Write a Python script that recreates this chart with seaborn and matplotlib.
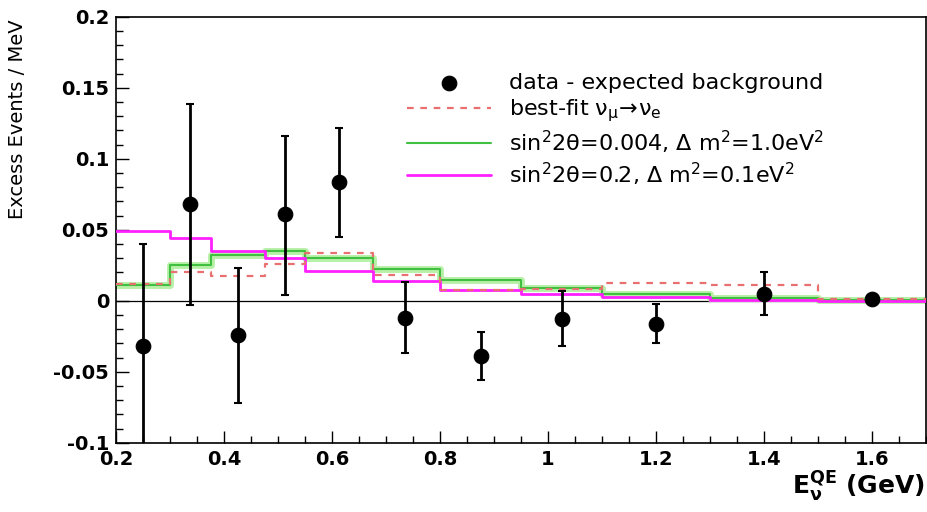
import numpy as np
import pandas as pd
import matplotlib
matplotlib.use("Agg")
import matplotlib.pyplot as plt
import seaborn as sns
from matplotlib.ticker import MultipleLocator

# bin edges (GeV) of the prediction histograms
edges = [0.2, 0.3, 0.375, 0.475, 0.55, 0.675, 0.8, 0.95, 1.1, 1.3, 1.5, 1.7]
best_fit = [0.012, 0.020, 0.0175, 0.026, 0.034, 0.018, 0.0075, 0.0085, 0.0125, 0.011, 0.001]
osc_a = [0.011, 0.025, 0.032, 0.035, 0.030, 0.0225, 0.0145, 0.009, 0.0045, 0.002, 0.0003]
osc_b = [0.049, 0.044, 0.035, 0.030, 0.021, 0.014, 0.008, 0.005, 0.0026, 0.0007, 0.0001]

# data - expected background
data_x = [0.25, 0.3375, 0.425, 0.5125, 0.6125, 0.735, 0.875, 1.025, 1.2, 1.4, 1.6]
data_y = [-0.032, 0.068, -0.024, 0.061, 0.084, -0.012, -0.039, -0.013, -0.016, 0.005, 0.001]
err_up = [0.072, 0.071, 0.047, 0.055, 0.038, 0.025, 0.017, 0.020, 0.014, 0.015, 0.001]
err_dn = [0.080, 0.071, 0.048, 0.057, 0.039, 0.025, 0.017, 0.019, 0.014, 0.015, 0.001]

sns.set_style("white")
plt.rcParams["font.family"] = ["DejaVu Sans"]
plt.rcParams["mathtext.default"] = "regular"
for key in ["text.color", "axes.labelcolor", "xtick.color", "ytick.color"]:
    plt.rcParams[key] = "black"

fig = plt.figure(figsize=(9.28, 5.12), dpi=100)
ax = fig.add_axes([0.125, 0.135, 0.873, 0.832])


def steps(vals):
    return pd.DataFrame({"x": edges, "y": list(vals) + [vals[-1]]})


ax.axhline(0, color="black", lw=0.9, zorder=1)

sns.lineplot(data=steps(osc_a), x="x", y="y", ax=ax, drawstyle="steps-post",
             color="#b8f0a8", lw=5, zorder=2)
sns.lineplot(data=steps(osc_a), x="x", y="y", ax=ax, drawstyle="steps-post",
             color="#40c040", lw=1.5, zorder=3,
             label=r"sin$^2$2θ=0.004, Δ m$^2$=1.0eV$^2$")
sns.lineplot(data=steps(osc_b), x="x", y="y", ax=ax, drawstyle="steps-post",
             color="#ff20ff", lw=2, zorder=3,
             label=r"sin$^2$2θ=0.2, Δ m$^2$=0.1eV$^2$")
sns.lineplot(data=steps(best_fit), x="x", y="y", ax=ax, drawstyle="steps-post",
             color="#e87070", lw=1.6, ls=(0, (3, 3)), zorder=4,
             label=r"best-fit $\nu_{\mu}\!\rightarrow\!\nu_{e}$")

ax.errorbar(data_x, data_y, yerr=[err_dn, err_up], fmt="none", ecolor="black",
            elinewidth=2, capsize=3, capthick=1.5, zorder=5)
sns.scatterplot(x=data_x, y=data_y, ax=ax, color="black", s=110, zorder=6,
                edgecolor="black", label="data - expected background")

ax.set_xlim(0.2, 1.7)
ax.set_ylim(-0.1, 0.2)
ax.xaxis.set_minor_locator(MultipleLocator(0.05))
ax.yaxis.set_minor_locator(MultipleLocator(0.01))
ax.set_xticks([0.2, 0.4, 0.6, 0.8, 1.0, 1.2, 1.4, 1.6])
ax.set_xticklabels(["0.2", "0.4", "0.6", "0.8", "1", "1.2", "1.4", "1.6"])
ax.set_yticks([-0.1, -0.05, 0, 0.05, 0.1, 0.15, 0.2])
ax.set_yticklabels(["-0.1", "-0.05", "0", "0.05", "0.1", "0.15", "0.2"])
ax.tick_params(which="major", direction="in", length=9, width=1, labelsize=14,
               top=False, right=False, bottom=True, left=True, pad=5)
ax.tick_params(which="minor", direction="in", length=5, width=1,
               top=False, right=False, bottom=True, left=True)
for lab in ax.get_xticklabels() + ax.get_yticklabels():
    lab.set_fontweight("bold")
for sp in ax.spines.values():
    sp.set_color("black")
    sp.set_linewidth(1.2)

ax.set_xlabel("")
ax.set_ylabel("Excess Events / MeV", fontsize=14)
ax.yaxis.set_label_coords(-0.11, 0.76)
fig.text(0.997, 0.015, r"E$_{\nu}^{\mathbf{QE}}$ (GeV)", ha="right", va="bottom",
         fontsize=18, fontweight="bold")

h, l = ax.get_legend_handles_labels()
order = [3, 2, 0, 1]
ax.legend([h[i] for i in order], [l[i] for i in order], loc="upper left",
          bbox_to_anchor=(0.334, 0.915), frameon=False, fontsize=16,
          handlelength=3.8, labelspacing=0.2, handletextpad=0.8)

fig.savefig("out.png", dpi=100)
